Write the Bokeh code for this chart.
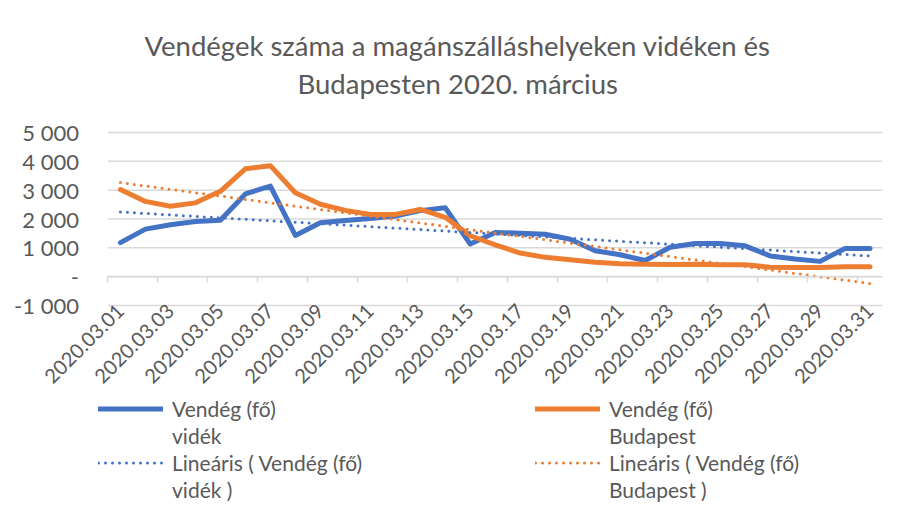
import numpy as np
from math import pi
from bokeh.plotting import figure
from bokeh.models import FixedTicker, LinearAxis, Legend, LegendItem, Range1d, Title
from bokeh.embed import file_html
from bokeh.resources import INLINE

# ---- data ----
dates = ["2020.03.01", "2020.03.02", "2020.03.03", "2020.03.04", "2020.03.05",
         "2020.03.06", "2020.03.07", "2020.03.08", "2020.03.09", "2020.03.10",
         "2020.03.11", "2020.03.12", "2020.03.13", "2020.03.14", "2020.03.15",
         "2020.03.16", "2020.03.17", "2020.03.18", "2020.03.19", "2020.03.20",
         "2020.03.21", "2020.03.22", "2020.03.23", "2020.03.24", "2020.03.25",
         "2020.03.26", "2020.03.27", "2020.03.28", "2020.03.29", "2020.03.30",
         "2020.03.31"]
videk = [1180, 1650, 1800, 1910, 1960, 2870, 3140, 1430, 1870, 1950,
         2020, 2100, 2290, 2390, 1130, 1530, 1510, 1470, 1300, 900,
         760, 560, 1020, 1150, 1150, 1070, 720, 610, 530, 980, 980]
budapest = [3020, 2610, 2440, 2560, 2960, 3740, 3850, 2910, 2510, 2300,
            2160, 2160, 2330, 2060, 1420, 1100, 820, 670, 590, 500,
            450, 430, 420, 430, 410, 410, 330, 320, 320, 340, 340]
y_ticks = [-1000, 0, 1000, 2000, 3000, 4000, 5000]
y_labels = ["-1 000", "-", "1 000", "2 000", "3 000", "4 000", "5 000"]

title_line1 = "Vendégek száma a magánszálláshelyeken vidéken és"
title_line2 = "Budapesten 2020. március"
legend_left = ["Vendég (fő)", "vidék", "Lineáris ( Vendég (fő)", "vidék )"]
legend_right = ["Vendég (fő)", "Budapest", "Lineáris ( Vendég (fő)", "Budapest )"]

BLUE = "#4472C4"
ORANGE = "#ED7D31"
GRAY_TXT = "#595959"
GRID = "#d9d9d9"
FONT = "Lato"

W, H = 888, 502
PLOT_LEFT_PX = 107.5      # where the category area starts
VALUE_TOP_PX = 132        # pixel row of the top value (5000)
FRAME_TOP_PX = 112        # frame starts a bit higher so the top label is not clipped
PX_PER_1000 = 173 / 6.0   # vertical scale of the value area

days = list(range(1, len(dates) + 1))
label_days = days[::2]
boundaries = [d - 0.5 for d in label_days]
x_lo, x_hi = days[0] - 0.5, days[-1] + 0.5
px_per_day = 25.0

y_top = y_ticks[-1] + (VALUE_TOP_PX - FRAME_TOP_PX) / PX_PER_1000 * 1000
y_bot = y_ticks[-1] - (H - VALUE_TOP_PX) / PX_PER_1000 * 1000

# The frame spans the whole width and the lower part of the figure so that the
# rotated date labels and the legend (both outside the value area) are not clipped.
p = figure(width=W, height=H, output_backend="svg", toolbar_location=None,
           x_axis_location=None, y_axis_location=None,
           x_range=Range1d(x_lo - PLOT_LEFT_PX / px_per_day, x_hi),
           y_range=Range1d(y_bot, y_top),
           min_border_left=0, min_border_right=6, min_border_top=FRAME_TOP_PX,
           min_border_bottom=0)
p.outline_line_color = None
p.background_fill_color = "white"
p.border_fill_color = "white"
p.title.visible = False
p.grid.visible = False

t2 = Title(text=title_line2, align="left", offset=297, standoff=26,
           text_font=FONT, text_font_size="27.5px", text_font_style="normal",
           text_color=GRAY_TXT)
t1 = Title(text=title_line1, align="left", offset=144, standoff=-21,
           text_font=FONT, text_font_size="27.5px", text_font_style="normal",
           text_color=GRAY_TXT)
p.add_layout(t2, "above")
p.add_layout(t1, "above")

# horizontal gridlines over the category area only
p.segment(x0=[x_lo] * len(y_ticks), y0=y_ticks, x1=[x_hi] * len(y_ticks), y1=y_ticks,
          line_color=GRID, line_width=1.5)

# value axis labels
ya = LinearAxis(fixed_location=x_lo, ticker=FixedTicker(ticks=y_ticks))
ya.major_label_overrides = dict(zip(y_ticks, y_labels))
ya.axis_line_color = None
ya.major_tick_line_color = None
ya.minor_tick_line_color = None
ya.major_label_text_font = FONT
ya.major_label_text_font_size = "22px"
ya.major_label_text_color = GRAY_TXT
ya.major_label_standoff = 23
p.add_layout(ya, "left")

# date labels hanging from the bottom of the value area
xa = LinearAxis(fixed_location=y_ticks[0], ticker=FixedTicker(ticks=label_days))
xa.major_label_overrides = {d: dates[d - 1] for d in label_days}
xa.axis_line_color = None
xa.major_tick_line_color = None
xa.minor_tick_line_color = None
xa.major_label_orientation = pi / 4
xa.major_label_text_font = FONT
xa.major_label_text_font_size = "20px"
xa.major_label_text_color = GRAY_TXT
xa.major_label_standoff = -4
p.add_layout(xa, "below")

# zero line with tick marks at category boundaries
za = LinearAxis(fixed_location=0, ticker=FixedTicker(ticks=boundaries), bounds=(x_lo, x_hi))
za.major_label_overrides = {b: "" for b in boundaries}
za.axis_line_color = GRID
za.axis_line_width = 1.5
za.major_tick_line_color = GRID
za.major_tick_line_width = 1.5
za.major_tick_in = 0
za.major_tick_out = 6
za.minor_tick_line_color = None
za.major_label_standoff = 0
p.add_layout(za, "below")

r_v = p.line(days, videk, line_color=BLUE, line_width=5, line_join="round", line_cap="round")
r_b = p.line(days, budapest, line_color=ORANGE, line_width=5, line_join="round", line_cap="round")

# linear trends (least squares, derived from the series)
xs = np.array([days[0], days[-1]], dtype=float)
kv = np.polyfit(days, videk, 1)
kb = np.polyfit(days, budapest, 1)
TREND = dict(line_width=3, line_dash="0 7", line_cap="round")
r_vt = p.line(xs, np.polyval(kv, xs), line_color=BLUE, **TREND)
r_bt = p.line(xs, np.polyval(kb, xs), line_color=ORANGE, **TREND)

blank = p.line(x=[], y=[], line_alpha=0)

def make_legend(labels, rends, loc):
    lg = Legend(items=[LegendItem(label=t, renderers=[r]) for t, r in zip(labels, rends)],
                location=loc)
    lg.glyph_width = 65
    lg.glyph_height = 21
    lg.label_height = 21
    lg.label_standoff = 9
    lg.spacing = 2
    lg.padding = 0
    lg.margin = 0
    lg.border_line_color = None
    lg.background_fill_alpha = 0
    lg.label_text_font = FONT
    lg.label_text_font_size = "21px"
    lg.label_text_line_height = 1.0
    lg.label_text_color = GRAY_TXT
    lg.click_policy = "none"
    return lg

p.add_layout(make_legend(legend_left, [r_v, blank, r_vt, blank], (98, 0)))
p.add_layout(make_legend(legend_right, [r_b, blank, r_bt, blank], (535, 0)))

open("out.html", "w").write(file_html(p, INLINE))
